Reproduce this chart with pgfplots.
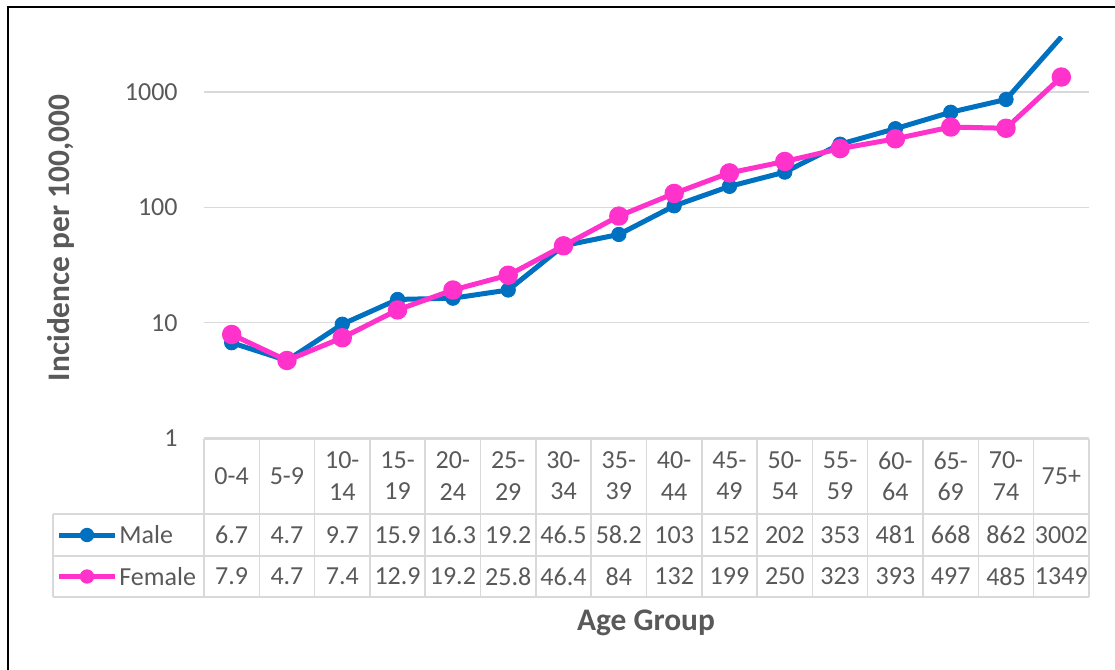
\documentclass[border=0pt]{standalone}
\usepackage{fontspec}
\setmainfont{Carlito}
\usepackage{pgfplots}
\pgfplotsset{compat=1.18}
\definecolor{male}{HTML}{0070C0}
\definecolor{female}{HTML}{FF33CC}
\definecolor{gridgray}{HTML}{D9D9D9}
\definecolor{textgray}{HTML}{595959}

\begin{document}
\begin{tikzpicture}[font=\fontsize{13}{15.6}\selectfont]
\useasboundingbox (-102pt,-116pt) rectangle (455.5pt,219pt);
\begin{axis}[
  at={(0,0)}, anchor=south west,
  scale only axis,
  width=442.5pt, height=200.5pt,
  xmin=0, xmax=16,
  ymode=log, ymin=1, ymax=3000,
  xtick=\empty,
  ytick={1,10,100,1000},
  yticklabels={1,10,100,1000},
  yminorticks=false,
  major tick length=0pt,
  axis line style={draw=none},
  ymajorgrids,
  grid style={draw=gridgray, line width=0.75pt},
  yticklabel style={font=\fontsize{13}{15.6}\selectfont, text=textgray, anchor=east, inner sep=0pt, xshift=-13pt},
  /pgf/number format/assume math mode=true,
  clip=true,
]
\addplot[male, line width=2.5pt, line join=round, no markers] coordinates {
  (0.5,6.7) (1.5,4.7) (2.5,9.7) (3.5,15.9) (4.5,16.3) (5.5,19.2) (6.5,46.5) (7.5,58.2)
  (8.5,103) (9.5,152) (10.5,202) (11.5,353) (12.5,481) (13.5,668) (14.5,862) (15.5,3002)
};
\addplot[male, only marks, mark=*, mark size=3.6pt] coordinates {
  (0.5,6.7) (1.5,4.7) (2.5,9.7) (3.5,15.9) (4.5,16.3) (5.5,19.2) (6.5,46.5) (7.5,58.2)
  (8.5,103) (9.5,152) (10.5,202) (11.5,353) (12.5,481) (13.5,668) (14.5,862)
};
\addplot[female, line width=2.5pt, line join=round, mark=*, mark size=3.6pt] coordinates {
  (0.5,7.9) (1.5,4.7) (2.5,7.4) (3.5,12.9) (4.5,19.2) (5.5,25.8) (6.5,46.4) (7.5,84)
  (8.5,132) (9.5,199) (10.5,250) (11.5,323) (12.5,393) (13.5,497) (14.5,485) (15.5,1349)
};
\end{axis}

% data table
\def\cw{27.656}
\draw[gridgray, line width=0.75pt] (0pt,-0.5pt) -- (442.5pt,-0.5pt);
\foreach \yy in {-38,-59,-79.5} \draw[gridgray, line width=0.75pt] (-75.5pt,\yy pt) -- (442.5pt,\yy pt);
\foreach \i in {0,...,16} \draw[gridgray, line width=0.75pt] ({\i*\cw pt},-0.5pt) -- ({\i*\cw pt},-79.5pt);
\draw[gridgray, line width=0.75pt] (-75.5pt,-38pt) -- (-75.5pt,-79.5pt);

\foreach \lab [count=\i from 0] in {0-4,5-9,10-\\14,15-\\19,20-\\24,25-\\29,30-\\34,35-\\39,40-\\44,45-\\49,50-\\54,55-\\59,60-\\64,65-\\69,70-\\74,75+}
  \node[text=textgray, align=center, inner sep=0pt] at ({(\i+0.5)*\cw pt},-19pt) {\lab};
\foreach \v [count=\i from 0] in {6.7,4.7,9.7,15.9,16.3,19.2,46.5,58.2,103,152,202,353,481,668,862,3002}
  \node[text=textgray, inner sep=0pt] at ({(\i+0.5)*\cw pt},-48.5pt) {\v};
\foreach \v [count=\i from 0] in {7.9,4.7,7.4,12.9,19.2,25.8,46.4,84,132,199,250,323,393,497,485,1349}
  \node[text=textgray, inner sep=0pt] at ({(\i+0.5)*\cw pt},-69.25pt) {\v};

% legend keys
\draw[male, line width=2.5pt] (-72.5pt,-48.5pt) -- (-44.5pt,-48.5pt);
\fill[male] (-58.5pt,-48.5pt) circle (3.6pt);
\node[text=textgray, anchor=west, inner sep=0pt] at (-42.5pt,-48.5pt) {Male};
\draw[female, line width=2.5pt] (-72.5pt,-69.25pt) -- (-44.5pt,-69.25pt);
\fill[female] (-58.5pt,-69.25pt) circle (3.6pt);
\node[text=textgray, anchor=west, inner sep=0pt] at (-42.5pt,-69.25pt) {Female};

% titles
\node[text=textgray, font=\fontsize{15.7}{18}\selectfont\bfseries, rotate=90] at (-71.5pt,100pt) {Incidence per 100,000};
\node[text=textgray, font=\fontsize{15.7}{18}\selectfont\bfseries] at (221pt,-92.5pt) {Age Group};

% chart border
\draw[black, line width=1pt] (-98pt,-130pt) -- (-98pt,215.5pt) -- (470pt,215.5pt);
\end{tikzpicture}
\end{document}
